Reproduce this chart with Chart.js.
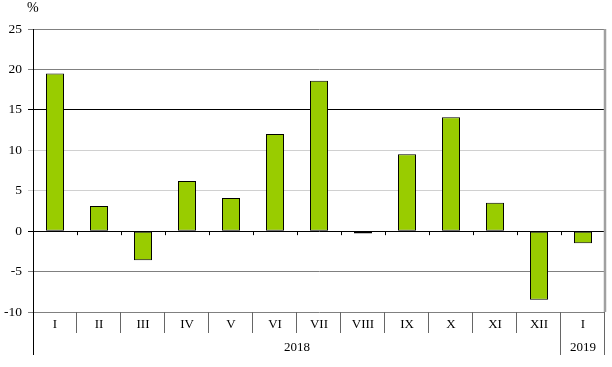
<!DOCTYPE html>
<html>
<head>
<meta charset="utf-8">
<script src="https://cdn.jsdelivr.net/npm/chart.js@4/dist/chart.umd.min.js"></script>
<style>
html,body{margin:0;padding:0;background:#fff;}
#wrap{width:612px;height:367px;position:relative;}
</style>
</head>
<body>
<div id="wrap"><canvas id="c" width="612" height="367"></canvas></div>
<script>
const categories = ["I","II","III","IV","V","VI","VII","VIII","IX","X","XI","XII","I"];
const values = [19.5, 3.1, -3.6, 6.2, 4.1, 12.0, 18.6, -0.3, 9.5, 14.1, 3.5, -8.5, -1.5];
const years = [{label:"2018", from:0, to:11}, {label:"2019", from:12, to:12}];
const yTicks = [25, 20, 15, 10, 5, 0, -5, -10];
const unitLabel = "%";

const FONT = "'Liberation Serif', 'Times New Roman', serif";

const axisPlugin = {
  id: 'axisPlugin',
  afterDraw(chart) {
    const ctx = chart.ctx;
    const x = chart.scales.x;
    const y = chart.scales.y;
    const a = chart.chartArea;
    const n = categories.length;
    const half = (x.getPixelForValue(1) - x.getPixelForValue(0)) / 2;
    const bound = i => x.getPixelForValue(i) - half;
    const zeroY = y.getPixelForValue(0);
    ctx.save();
    // small ticks on zero line
    ctx.strokeStyle = '#000';
    ctx.lineWidth = 1;
    for (let i = 1; i < n; i++) {
      const bx = Math.round(bound(i)) + 0.5;
      ctx.beginPath(); ctx.moveTo(bx, zeroY); ctx.lineTo(bx, zeroY + 4); ctx.stroke();
    }
    // right border
    ctx.strokeStyle = '#a0a0a0';
    ctx.lineWidth = 2.5;
    ctx.beginPath(); ctx.moveTo(a.right, a.top); ctx.lineTo(a.right, a.bottom); ctx.stroke();
    // category separators
    ctx.strokeStyle = '#666';
    ctx.lineWidth = 1;
    for (let i = 1; i <= n; i++) {
      const bx = Math.round(bound(i)) - 0.5;
      const isYearBoundary = years.some(yr => yr.from === i) || i === n;
      const bottom = isYearBoundary ? a.bottom + 43 : a.bottom + 21;
      ctx.beginPath(); ctx.moveTo(bx, a.bottom); ctx.lineTo(bx, bottom); ctx.stroke();
    }
    // left axis extension
    ctx.strokeStyle = '#000';
    ctx.beginPath(); ctx.moveTo(Math.round(a.left) + 0.5, a.bottom); ctx.lineTo(Math.round(a.left) + 0.5, a.bottom + 43); ctx.stroke();
    // category labels
    ctx.fillStyle = '#000';
    ctx.font = "13px " + FONT;
    ctx.textAlign = 'center';
    ctx.textBaseline = 'middle';
    categories.forEach((c, i) => ctx.fillText(c, x.getPixelForValue(i), a.bottom + 13));
    // year labels
    years.forEach(yr => {
      const cx = (bound(yr.from) + bound(yr.to + 1)) / 2;
      ctx.fillText(yr.label, cx, a.bottom + 36);
    });
    // unit label
    ctx.textAlign = 'left';
    ctx.font = "14px " + FONT;
    ctx.fillText(unitLabel, 27, 8);
    ctx.restore();
  }
};

function gridColor(v) {
  if (v === 0 || v === 15) return '#000';
  if (v === 5 || v === 10) return '#d0d0d0';
  return '#808080';
}

new Chart(document.getElementById('c'), {
  type: 'bar',
  data: {
    labels: categories,
    datasets: [{
      data: values,
      backgroundColor: '#99cc00',
      borderColor: '#000',
      borderWidth: 1,
      borderSkipped: false,
      barPercentage: 0.41,
      categoryPercentage: 1.0
    }]
  },
  options: {
    responsive: false,
    animation: false,
    devicePixelRatio: 1,
    layout: { padding: { left: 0, top: 29, right: 7, bottom: 55 } },
    plugins: { legend: { display: false }, tooltip: { enabled: false } },
    scales: {
      x: {
        display: false,
        offset: true,
        grid: { display: false }
      },
      y: {
        min: -10,
        max: 25,
        afterBuildTicks(scale) { scale.ticks = yTicks.map(v => ({ value: v })); },
        afterFit(scale) { scale.width = 33; },
        border: { display: true, color: '#000', width: 1 },
        grid: {
          color: c => gridColor(c.tick ? c.tick.value : null),
          lineWidth: 1,
          tickLength: 5,
          drawTicks: true
        },
        ticks: {
          color: '#000',
          padding: 6,
          font: { family: FONT, size: 13.5 }
        }
      }
    }
  },
  plugins: [axisPlugin]
});
</script>
</body>
</html>
